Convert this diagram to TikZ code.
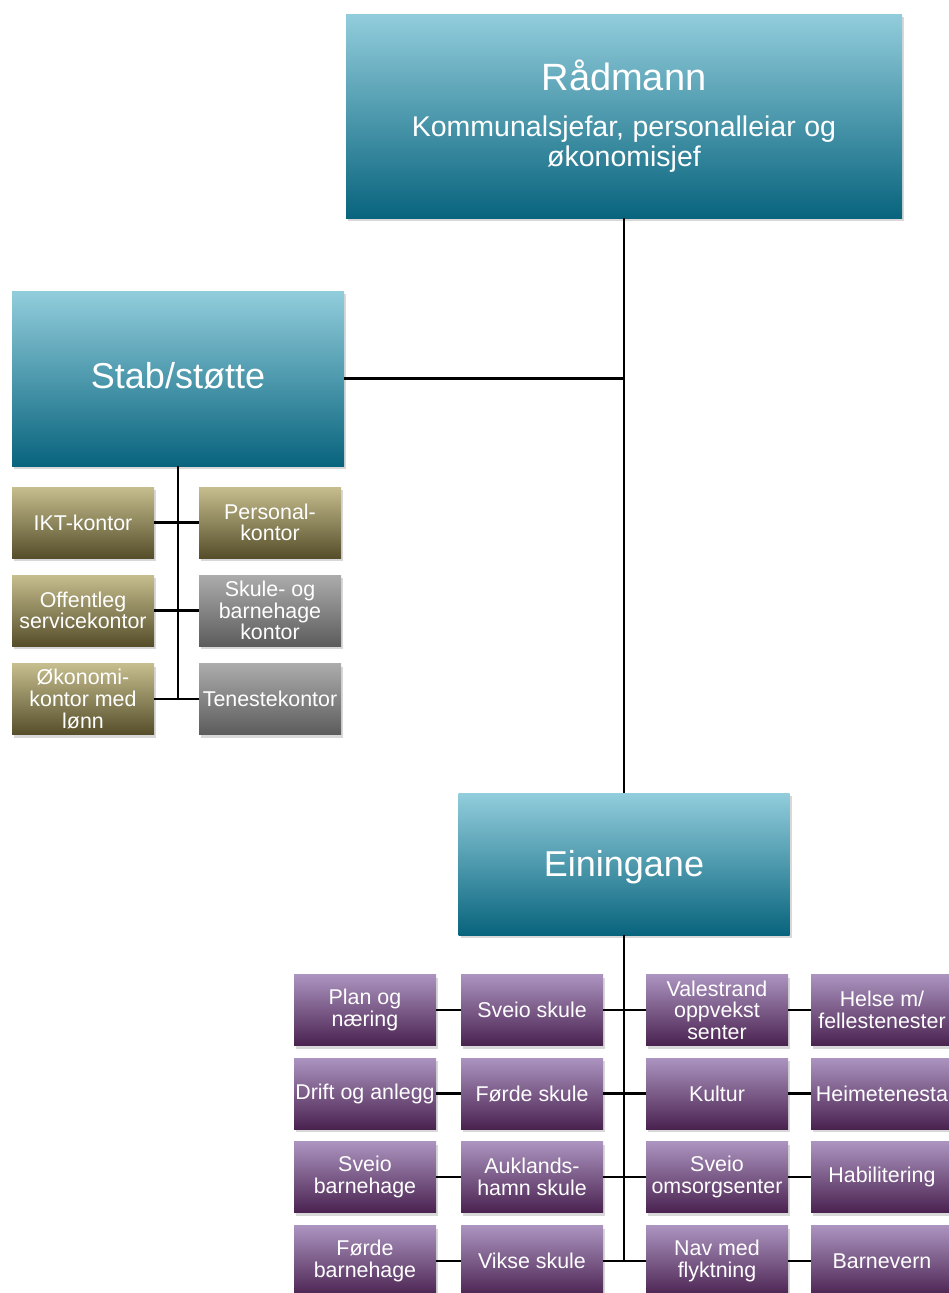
\documentclass[tikz,border=0pt]{standalone}
\usepackage{fontspec}
\setmainfont{Liberation Sans}
\usetikzlibrary{shadows}
\definecolor{tealtop}{RGB}{146,205,220}
\definecolor{tealbot}{RGB}{8,100,125}
\definecolor{olivetop}{RGB}{198,190,142}
\definecolor{olivebot}{RGB}{86,78,42}
\definecolor{graytop}{RGB}{172,172,172}
\definecolor{graybot}{RGB}{92,92,92}
\definecolor{purptop}{RGB}{172,148,192}
\definecolor{purpbot}{RGB}{74,34,80}
\begin{document}
\begin{tikzpicture}[x=1pt,y=-1pt,
  box/.style={rectangle, inner sep=0pt, align=center, text=white,
    drop shadow={opacity=0.3, shadow xshift=2pt, shadow yshift=-3pt}},
  tealbox/.style={box, top color=tealtop, bottom color=tealbot},
  olivebox/.style={box, small, top color=olivetop, bottom color=olivebot},
  graybox/.style={box, small, top color=graytop, bottom color=graybot},
  purplebox/.style={box, small, top color=purptop, bottom color=purpbot},
  small/.style={minimum width=142pt, minimum height=71pt, font=\fontsize{21.4}{21.6}\selectfont},
  conn/.style={line width=2.4pt, black}]
\clip (0,0) rectangle (949,1293);
\fill[white] (0,0) rectangle (949,1293);

% top level
\node[tealbox, minimum width=556pt, minimum height=204pt, text width=540pt] (rad) at (624,116)
  {{\fontsize{38}{44}\selectfont Rådmann\par}\vspace{17pt}{\fontsize{28.5}{29.5}\selectfont\spaceskip=0.3em Kommunalsjefar, personalleiar og\\økonomisjef\par}};
\node[tealbox, minimum width=332pt, minimum height=175pt, font=\fontsize{36}{40}\selectfont, text height=25pt, text depth=5pt] (stab) at (178,378.5) {Stab/støtte};
\node[tealbox, minimum width=331pt, minimum height=142pt, font=\fontsize{36}{40}\selectfont, text height=31pt, text depth=6.5pt] (ein) at (624,864) {Einingane};

% stab children
\node[olivebox] (ikt) at (83,522.5) {IKT-kontor};
\node[olivebox] (off) at (83,610.5) {Offentleg\\servicekontor};
\node[olivebox] (oko) at (83,699) {Økonomi-\\kontor med\\lønn};
\node[olivebox] (pers) at (270,522.5) {Personal-\\kontor};
\node[graybox] (skb) at (270,610.5) {Skule- og\\barnehage\\kontor};
\node[graybox] (ten) at (270,699) {Tenestekontor};

% einingane children
\node[purplebox] (plan) at (365,1010) {Plan og\\næring};
\node[purplebox] (drift) at (365,1093.5) {Drift og anlegg};
\node[purplebox] (sbh) at (365,1177) {Sveio\\barnehage};
\node[purplebox] (fbh) at (365,1261) {Førde\\barnehage};
\node[purplebox] (ssk) at (532,1010) {Sveio skule};
\node[purplebox] (fsk) at (532,1093.5) {Førde skule};
\node[purplebox] (ask) at (532,1177) {Auklands-\\hamn skule};
\node[purplebox] (vsk) at (532,1261) {Vikse skule};
\node[purplebox] (val) at (717,1010) {Valestrand\\oppvekst\\senter};
\node[purplebox] (kul) at (717,1093.5) {Kultur};
\node[purplebox] (oms) at (717,1177) {Sveio\\omsorgsenter};
\node[purplebox] (nav) at (717,1261) {Nav med\\flyktning};
\node[purplebox] (hel) at (882,1010) {Helse m/\\fellestenester};
\node[purplebox] (hei) at (882,1093.5) {Heimetenesta};
\node[purplebox] (hab) at (882,1177) {Habilitering};
\node[purplebox] (bar) at (882,1261) {Barnevern};

% connectors
\draw[conn] (rad.south) -- (ein.north);
\draw[conn] (stab.east) -- (stab.east -| rad.south);
\draw[conn] (stab.south) -- (stab.south |- oko.east);
\draw[conn] (ikt.east) -- (pers.west);
\draw[conn] (off.east) -- (skb.west);
\draw[conn] (oko.east) -- (ten.west);
\draw[conn] (ein.south) -- (ein.south |- vsk.east);
\foreach \a/\b/\c/\d in {plan/ssk/val/hel, drift/fsk/kul/hei, sbh/ask/oms/hab, fbh/vsk/nav/bar}{
  \draw[conn] (\a.east) -- (\b.west);
  \draw[conn] (\b.east) -- (\c.west);
  \draw[conn] (\c.east) -- (\d.west);
}
\end{tikzpicture}
\end{document}
